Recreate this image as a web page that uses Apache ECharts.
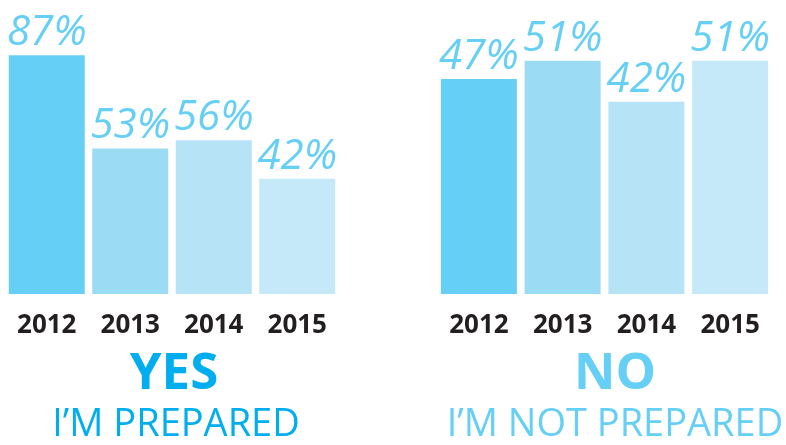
<!DOCTYPE html>
<html>
<head>
<meta charset="utf-8">
<script src="https://cdn.jsdelivr.net/npm/echarts@6/dist/echarts.min.js"></script>
<style>
  html, body { margin: 0; padding: 0; background: #fff; }
  #chart { width: 786px; height: 445px; }
</style>
</head>
<body>
<div id="chart"></div>
<script>
var years = ['2012', '2013', '2014', '2015'];
var yesValues = [87, 53, 56, 42];
var noValues = [47, 51, 42, 51];
var barColors = ['#66cff5', '#9bdbf4', '#b6e3f6', '#c6e9f9'];

var chart = echarts.init(document.getElementById('chart'));

function coloured(values) {
    return values.map(function (v, i) {
        return { value: v, itemStyle: { color: barColors[i] } };
    });
}

var labelStyle = {
    show: true,
    position: 'top',
    distance: 1,
    formatter: '{c}%',
    fontFamily: 'Open Sans',
    fontStyle: 'italic',
    fontWeight: 'normal',
    fontSize: 42,
    color: '#66cff5'
};

var yearLabel = {
    fontFamily: 'Open Sans',
    fontWeight: 'bold',
    fontSize: 26,
    color: '#231f20',
    margin: 19
};

// big caption under each panel
function caption(text, x, y, size, weight, colour) {
    return {
        type: 'text', x: x, y: y,
        style: { text: text, fontFamily: 'Open Sans', fontWeight: weight, fontSize: size, fill: colour, align: 'center', verticalAlign: 'top' }
    };
}

var option = {
    animation: false,
    grid: [
        { left: 5, top: 19.5, width: 334, height: 274.5 },
        { left: 437, top: 19.5, width: 335, height: 274.5 }
    ],
    xAxis: [
        { type: 'category', gridIndex: 0, data: years, axisLine: { show: false }, axisTick: { show: false }, axisLabel: yearLabel },
        { type: 'category', gridIndex: 1, data: years, axisLine: { show: false }, axisTick: { show: false }, axisLabel: yearLabel }
    ],
    yAxis: [
        { type: 'value', gridIndex: 0, min: 0, max: 100, show: false, splitLine: { show: false } },
        { type: 'value', gridIndex: 1, min: 0, max: 60, show: false, splitLine: { show: false } }
    ],
    series: [
        { name: 'YES', type: 'bar', xAxisIndex: 0, yAxisIndex: 0, barWidth: 76, data: coloured(yesValues), label: labelStyle },
        { name: 'NO', type: 'bar', xAxisIndex: 1, yAxisIndex: 1, barWidth: 76, data: coloured(noValues), label: labelStyle }
    ],
    graphic: [
        caption('YES', 174, 349, 51, 'bold', '#00aeef'),
        caption('I\u2019M PREPARED', 176, 406, 38, 'normal', '#00aeef'),
        caption('NO', 615, 349, 51, 'bold', '#66cff5'),
        caption('I\u2019M NOT PREPARED', 615, 406, 38, 'normal', '#66cff5')
    ]
};

chart.setOption(option);
</script>
</body>
</html>
